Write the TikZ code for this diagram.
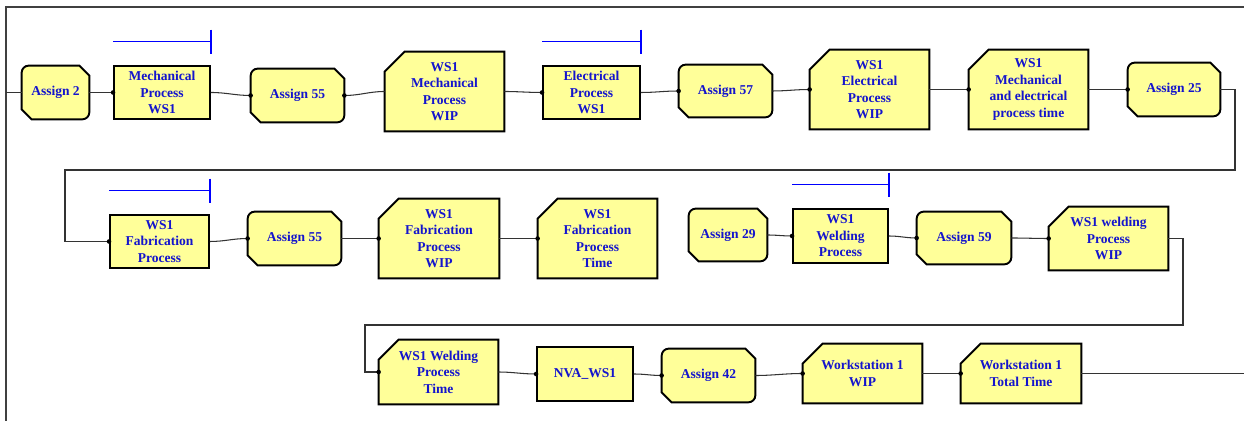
\documentclass[tikz,border=0pt]{standalone}
\usepackage{fontspec}
\setmainfont{Liberation Serif}
\usetikzlibrary{arrows.meta}

\definecolor{boxfill}{RGB}{255,255,153}
\definecolor{txtblue}{RGB}{20,20,205}

\pgfdeclarelayer{bg}
\pgfsetlayers{bg,main}

\tikzset{
	box/.style={font=\fontsize{7.7}{9.4}\selectfont\bfseries, text=txtblue, align=center, inner sep=0pt},
	proc/.style={box, draw, fill=boxfill, line width=1.1pt, minimum width=1.92cm, minimum height=1.06cm},
	assign/.style={box, minimum width=1.86cm, minimum height=1.06cm},
	rec/.style={box, minimum width=2.38cm, minimum height=1.58cm},
	outline/.style={draw, fill=boxfill, line width=1.1pt},
	link/.style={line width=0.6pt, draw=black!80},
	delay/.style={blue, line width=0.9pt},
	frame/.style={line width=0.9pt, draw=black!75}
}

% assign module: two rounded and two cut corners
\newcommand\assignpath[1]{%
	\path[outline] ([yshift=-0.14cm]#1.north west) arc[start angle=180,end angle=90,radius=0.14cm]
		-- ([xshift=-0.2cm]#1.north east) -- ([yshift=-0.2cm]#1.north east)
		-- ([yshift=0.14cm]#1.south east) arc[start angle=0,end angle=-90,radius=0.14cm]
		-- ([xshift=0.2cm]#1.south west) -- ([yshift=0.2cm]#1.south west) -- cycle;}
% record module: cut top left corner
\newcommand\recpath[1]{%
	\path[outline] ([yshift=-0.4cm]#1.north west) -- ([xshift=0.4cm]#1.north west)
		-- (#1.north east) -- (#1.south east) -- (#1.south west) -- cycle;}

\begin{document}
\begin{tikzpicture}[x=0.02cm,y=0.02cm]
	\useasboundingbox (0,0) rectangle (1244,-421);
	\draw[frame] (6,-421) -- (6,-7) -- (1244,-7);
	\coordinate (start) at (6,-92.5);
	\coordinate (finish) at (1244,-373.5);
	
	%ROW 1
	\node[assign, minimum width=1.34cm] (a2) at (55.5,-92.5) {Assign 2};
	\node[proc] (mech) at (162,-92.5) {Mechanical\\Process\\WS1};
	\node[assign] (a55) at (297.5,-95.5) {Assign 55};
	\node[rec] (wipm) at (444.5,-91.5) {WS1\\Mechanical\\Process\\WIP};
	\node[proc, minimum width=1.94cm] (elec) at (591.5,-92.5) {Electrical\\Process\\WS1};
	\node[assign, minimum height=1.04cm] (a57) at (725.5,-91) {Assign 57};
	\node[rec] (wipe) at (869.5,-89.5) {WS1\\Electrical\\Process\\WIP};
	\node[rec] (tme) at (1028.5,-89.5) {WS1\\Mechanical\\and electrical\\process time};
	\node[assign, minimum width=1.84cm] (a25) at (1174,-89.5) {Assign 25};
	
	%ROW 2
	\node[proc, minimum width=1.98cm] (fab) at (159.5,-241.5) {WS1\\Fabrication\\Process};
	\node[assign] (b55) at (294.5,-238.5) {Assign 55};
	\node[rec, minimum width=2.4cm] (wipf) at (439,-238.5) {WS1\\Fabrication\\Process\\WIP};
	\node[rec] (tmf) at (597.5,-238.5) {WS1\\Fabrication\\Process\\Time};
	\node[assign, minimum width=1.56cm, minimum height=1.04cm] (a29) at (728,-235) {Assign 29};
	\node[proc, minimum width=1.9cm, minimum height=1.08cm] (weld) at (840.5,-236) {WS1\\Welding\\Process};
	\node[assign, minimum width=1.88cm, minimum height=1.04cm] (a59) at (964,-238) {Assign 59};
	\node[rec, minimum height=1.26cm] (wipw) at (1108.5,-238.5) {WS1 welding\\Process\\WIP};
	
	%ROW 3
	\node[rec, minimum height=1.28cm] (tmw) at (438.5,-372) {WS1 Welding\\Process\\Time};
	\node[proc, minimum height=1.08cm] (nva) at (585,-374) {NVA\_WS1};
	\node[assign] (a42) at (708.5,-375.5) {Assign 42};
	\node[rec, minimum height=1.18cm] (wipt) at (862.5,-373.5) {Workstation 1\\WIP};
	\node[rec, minimum width=2.4cm, minimum height=1.18cm] (tot) at (1021,-373.5) {Workstation 1\\Total Time};
	
	%OUTLINES
	\begin{pgfonlayer}{bg}
		\foreach \n in {a2,a55,a57,a25,b55,a29,a59,a42} {\assignpath{\n}}
		\foreach \n in {wipm,wipe,tme,wipf,tmf,wipw,tmw,wipt,tot} {\recpath{\n}}
	\end{pgfonlayer}
	
	%DELAY BARS
	\foreach \n in {mech,elec,fab,weld}
		\draw[delay] ([yshift=0.47cm]\n.north west) -- ([yshift=0.47cm]\n.north east) ++(0,12) -- ++(0,-24);
	
	%CONNECTIONS
	\draw[link] (start) -- (a2.west);
	\foreach \a/\b in {a2/mech, mech/a55, a55/wipm, wipm/elec, elec/a57, a57/wipe, wipe/tme, tme/a25,
		fab/b55, b55/wipf, wipf/tmf, a29/weld, weld/a59, a59/wipw,
		tmw/nva, nva/a42, a42/wipt, wipt/tot}
		\draw[link] (\a.east) to[out=0,in=180] (\b.west);
	\draw[link] (a25.east) -| (1235,-170) -| (65,-241.5) -- (fab.west);
	\draw[link] (wipw.east) -| (1183,-325) -| (365,-372) -- (tmw.west);
	\draw[link] (tot.east) -- (finish);
	
	%ENTRY DOTS
	\foreach \n in {mech,elec,a57,wipe,tme,a25,fab,b55,wipf,tmf,weld,a59,wipw,tmw,nva,a42,wipt,tot}
		\fill (\n.west) circle (1.3pt);
	\fill (a55.west) circle (1.3pt);
	\fill (a55.east) circle (1.3pt);
\end{tikzpicture}
\end{document}
